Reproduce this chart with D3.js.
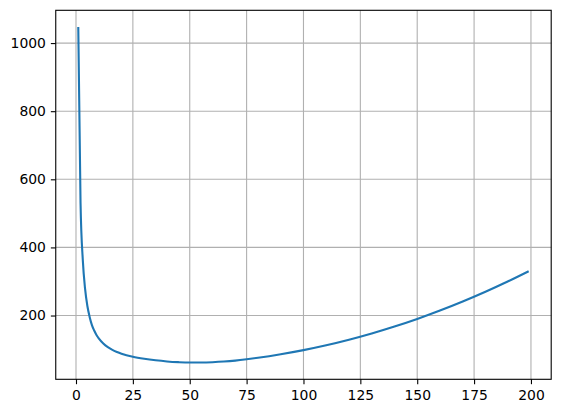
<!DOCTYPE html>
<meta charset="utf-8">
<script src="https://cdn.jsdelivr.net/npm/d3@7"></script>
<style>
body { margin: 0; background: #fff; }
.grid line { stroke: #b0b0b0; stroke-width: 1.1px; }
.tick text { font: 13.9px "DejaVu Sans", sans-serif; fill: #000; }
.spine { fill: none; stroke: #000; stroke-width: 1.1px; }
path.curve { fill: none; stroke: #1f77b4; stroke-width: 2.1px; stroke-linejoin: round; stroke-linecap: butt; }
</style>
<body>
<script>

// values
var xValues = [1, 2, 3, 4, 5, 6, 7, 8, 9, 10, 12, 14, 16, 18, 20, 25, 30, 35, 40, 45,
               50, 55, 60, 65, 70, 75, 80, 90, 100, 110, 120, 130, 140, 150, 160, 170, 180, 190, 199];
var yValues = [1047, 530, 362, 278, 228, 196, 172, 156, 143, 133, 118, 107, 99, 93, 88, 79, 73, 68.5, 65.2, 63.1,
               62, 62.1, 63, 64.8, 67.6, 71.5, 76, 86.4, 98.5, 112.7, 129, 147.3, 167.7, 190, 214.6, 241.2, 269.8, 300.5, 330];
var xTicks = [0, 25, 50, 75, 100, 125, 150, 175, 200];
var yTicks = [200, 400, 600, 800, 1000];

var data = xValues.map(function(x, i) { return {x: x, y: yValues[i]}; });

var width = 561,
    height = 413;

// axes box (matplotlib default axes, tight crop)
var axLeft = 55.75, axRight = 551.2, axTop = 10.3, axBottom = 379.3;

function padded(ext) {
  var m = (ext[1] - ext[0]) * 0.05;
  return [ext[0] - m, ext[1] + m];
}

var x = d3.scaleLinear()
    .domain(padded(d3.extent(xValues)))
    .range([axLeft, axRight]);

var y = d3.scaleLinear()
    .domain(padded(d3.extent(yValues)))
    .range([axBottom, axTop]);

var svg = d3.select("body").append("svg")
    .attr("width", width)
    .attr("height", height);

// grid
var grid = svg.append("g").attr("class", "grid");
grid.selectAll("line.gx")
    .data(xTicks)
    .enter().append("line")
    .attr("x1", function(d) { return x(d); })
    .attr("x2", function(d) { return x(d); })
    .attr("y1", axTop)
    .attr("y2", axBottom);
grid.selectAll("line.gy")
    .data(yTicks)
    .enter().append("line")
    .attr("x1", axLeft)
    .attr("x2", axRight)
    .attr("y1", function(d) { return y(d); })
    .attr("y2", function(d) { return y(d); });

// the curve
var line = d3.line()
    .x(function(d) { return x(d.x); })
    .y(function(d) { return y(d.y); })
    .curve(d3.curveMonotoneX);

svg.append("path")
    .datum(data)
    .attr("class", "curve")
    .attr("d", line);

// axes
var xAxis = svg.append("g")
    .attr("transform", "translate(0," + axBottom + ")")
    .call(d3.axisBottom(x).tickValues(xTicks).tickSize(4.9).tickPadding(4.9));
var yAxis = svg.append("g")
    .attr("transform", "translate(" + axLeft + ",0)")
    .call(d3.axisLeft(y).tickValues(yTicks).tickSize(4.9).tickPadding(4.9).tickFormat(d3.format("d")));

[xAxis, yAxis].forEach(function(a) {
  a.select(".domain").remove();
  a.selectAll(".tick line").attr("stroke", "#000").attr("stroke-width", 1.1);
  a.attr("font-family", null).attr("font-size", null);
});
xAxis.selectAll(".tick text").attr("dy", "0.76em");

svg.append("rect")
    .attr("class", "spine")
    .attr("x", axLeft)
    .attr("y", axTop)
    .attr("width", axRight - axLeft)
    .attr("height", axBottom - axTop);

</script>
</body>
